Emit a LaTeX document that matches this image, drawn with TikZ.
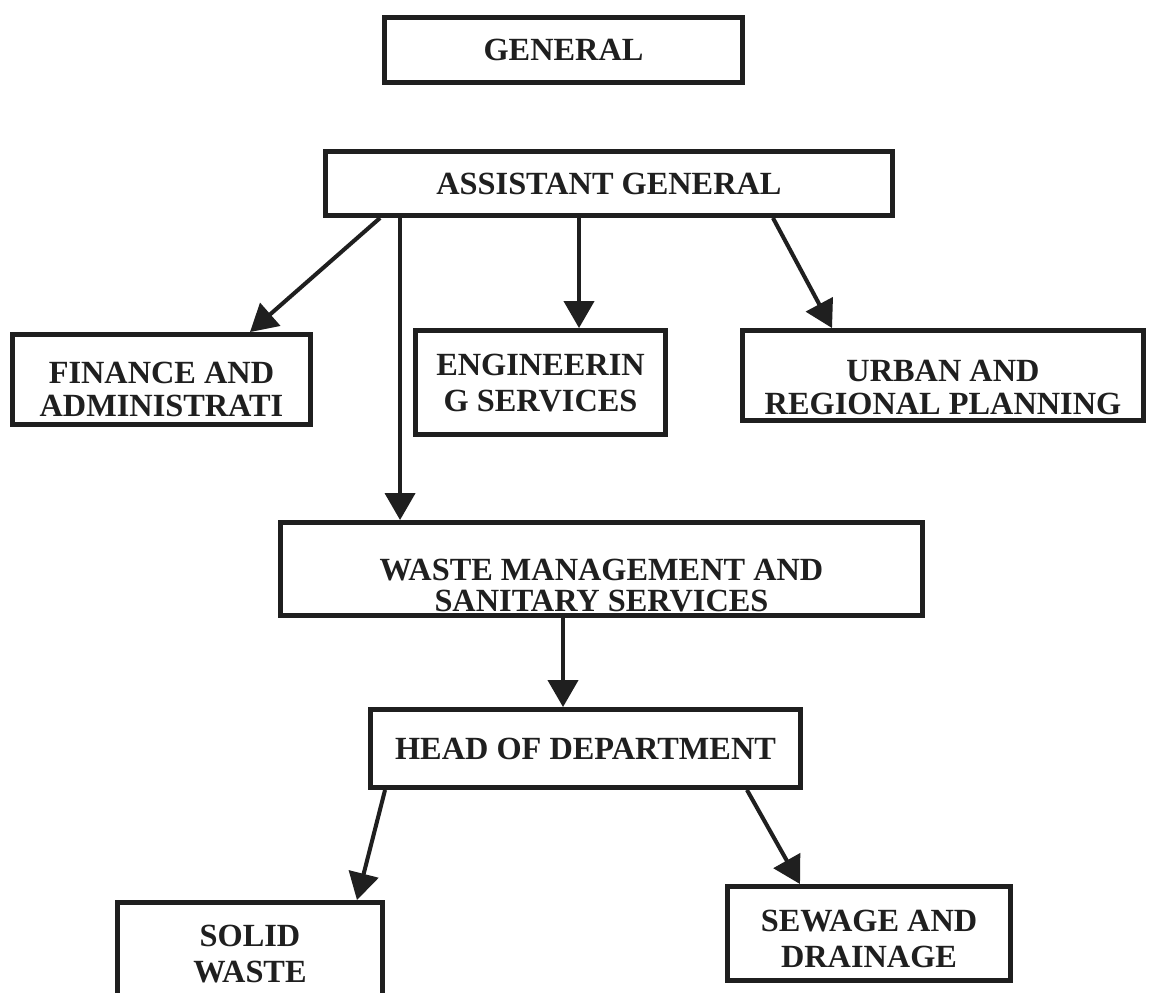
\documentclass[tikz,border=0pt]{standalone}
\usepackage{fontspec}
\setmainfont{Liberation Serif}
\usepackage{tikz}
\usetikzlibrary{arrows.meta}
\tikzset{%
  every unit/.style={
    rectangle,
    draw=black!88,
    line width=2.8pt,
    inner sep=0pt,
    align=center,
    text=black!88,
    text depth=0pt,
    font=\bfseries\fontsize{18.4}{19}\selectfont
  },
  unit tight/.style={
    font=\bfseries\fontsize{18.4}{18}\selectfont
  },
  unit loose/.style={
    font=\bfseries\fontsize{18.4}{20.8}\selectfont
  },
  link/.style={
    ->,
    draw=black!88,
    line width=2.3pt
  },
}

\begin{document}
\begin{tikzpicture}[x=0.02cm, y=-0.02cm, >={Triangle[length=0.54cm, width=0.6cm]}]
        \useasboundingbox [fill=white] (0,0) rectangle (1149,992);

        \node [every unit/.try, minimum width=7.16cm, minimum height=1.30cm] (general) at (563.5,50) {GENERAL};
        \node [every unit/.try, minimum width=11.34cm, minimum height=1.28cm] (assistant) at (609,183.5) {ASSISTANT GENERAL};

        \node [every unit/.try, minimum width=5.96cm, minimum height=1.80cm,
          text height=42.5pt] (finance) at (161.5,379.5) {FINANCE AND\\ADMINISTRATI};
        \node [every unit/.try, unit loose, minimum width=5.00cm, minimum height=2.08cm,
          text height=33.4pt] (engineering) at (540.5,382.5) {ENGINEERIN\\G SERVICES};
        \node [every unit/.try, minimum width=8.02cm, minimum height=1.80cm,
          text height=44.8pt] (urban) at (943,375.5) {URBAN AND\\REGIONAL PLANNING};

        \node [every unit/.try, unit tight, minimum width=12.84cm, minimum height=1.86cm,
          text height=48.8pt] (waste) at (601.5,569) {WASTE MANAGEMENT AND\\SANITARY SERVICES};
        \node [every unit/.try, minimum width=8.60cm, minimum height=1.56cm] (head) at (585.5,748.5) {HEAD OF DEPARTMENT};

        \node [every unit/.try, unit loose, minimum width=5.30cm, minimum height=2.06cm,
          text height=32.9pt] (solid) at (250,954) {SOLID\\WASTE};
        \node [every unit/.try, unit loose, minimum width=5.66cm, minimum height=1.88cm,
          text height=39.1pt] (sewage) at (869,933.5) {SEWAGE AND\\DRAINAGE};

        % slanted links
        \foreach \a/\as/\b/\bs in {assistant/-4.58/finance/1.77, assistant/3.28/urban/-2.22,
                                   head/-4.01/solid/2.14, head/3.23/sewage/-1.38}
          \draw [link] ([xshift=\as cm]\a.south) -- ([xshift=\bs cm]\b.north);

        % straight down links
        \foreach \a/\as/\b in {assistant/-4.18/waste, assistant/-0.6/engineering, waste/-0.77/head}
          \draw [link] ([xshift=\as cm]\a.south) -- ([xshift=\as cm]\a.south |- \b.north);
\end{tikzpicture}
\end{document}
